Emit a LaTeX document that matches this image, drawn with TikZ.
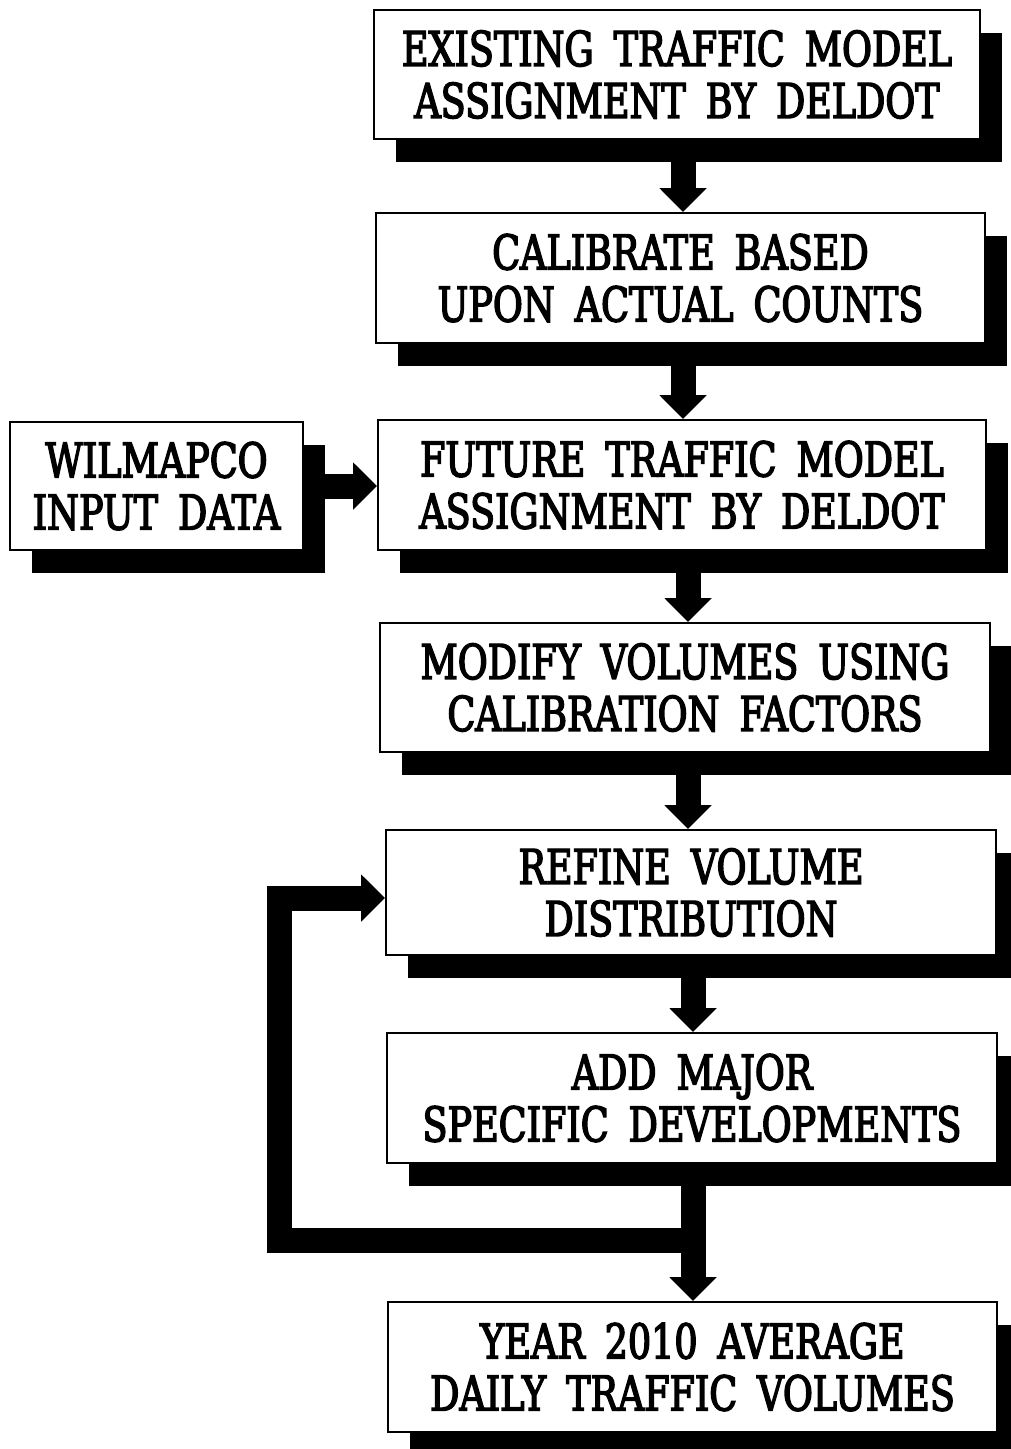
\documentclass[tikz,border=0pt]{standalone}
\usepackage{fontspec}
\setmainfont{DejaVu Serif}[FakeStretch=0.76,FakeBold=3]
\usetikzlibrary{arrows.meta,shadows}
\newcommand\boxfont{\fontsize{48}{52}\selectfont\spaceskip=20pt plus 2pt\relax}
\tikzset{
  box/.style={draw=black, line width=2pt, fill=white, rectangle, inner sep=0pt,
    align=center, font=\boxfont,
    general shadow={fill=black, shadow xshift=22pt, shadow yshift=-23pt}},
  flow/.style={line width=25pt, line join=miter, -{Triangle[width=46pt,length=24pt]}},
}
\begin{document}
\begin{tikzpicture}[x=1pt,y=-1pt]
\useasboundingbox (0,0) rectangle (1010,1449);
\node[box, minimum width=606pt, minimum height=129pt] (b1) at (677,74.5) {EXISTING TRAFFIC MODEL\\ASSIGNMENT BY DELDOT};
\node[box, minimum width=609pt, minimum height=130pt] (b2) at (680.5,278) {CALIBRATE BASED\\UPON ACTUAL COUNTS};
\node[box, minimum width=608pt, minimum height=130pt] (b3) at (682,485) {FUTURE TRAFFIC MODEL\\ASSIGNMENT BY DELDOT};
\node[box, minimum width=293pt, minimum height=128pt] (w) at (156.5,486) {WILMAPCO\\INPUT DATA};
\node[box, minimum width=610pt, minimum height=129pt] (b4) at (685,687.5) {MODIFY VOLUMES USING\\CALIBRATION FACTORS};
\node[box, minimum width=610pt, minimum height=125pt] (b5) at (691,892.5) {REFINE VOLUME\\DISTRIBUTION};
\node[box, minimum width=610pt, minimum height=130pt] (b6) at (692,1098) {ADD MAJOR\\SPECIFIC DEVELOPMENTS};
\node[box, minimum width=609pt, minimum height=130pt] (b7) at (692.5,1367) {YEAR 2010 AVERAGE\\DAILY TRAFFIC VOLUMES};
\coordinate (c1) at (683,0);
\coordinate (c2) at (688,0);
\coordinate (c3) at (693,0);
\coordinate (lp1) at (693,1240);
\coordinate (lp2) at (279,898);
\draw[flow] (b1.south -| c1) -- (b2.north -| c1);
\draw[flow] (b2.south -| c1) -- (b3.north -| c1);
\draw[flow] (b3.south -| c2) -- (b4.north -| c2);
\draw[flow] (b4.south -| c2) -- (b5.north -| c2);
\draw[flow] (b5.south -| c3) -- (b6.north -| c3);
\draw[flow] (b6.south -| c3) -- (b7.north -| c3);
\draw[flow] (w.east) -- (b3.west |- w.east);
\draw[flow] (lp1) -| (lp2) -- (b5.west |- lp2);
\end{tikzpicture}
\end{document}
